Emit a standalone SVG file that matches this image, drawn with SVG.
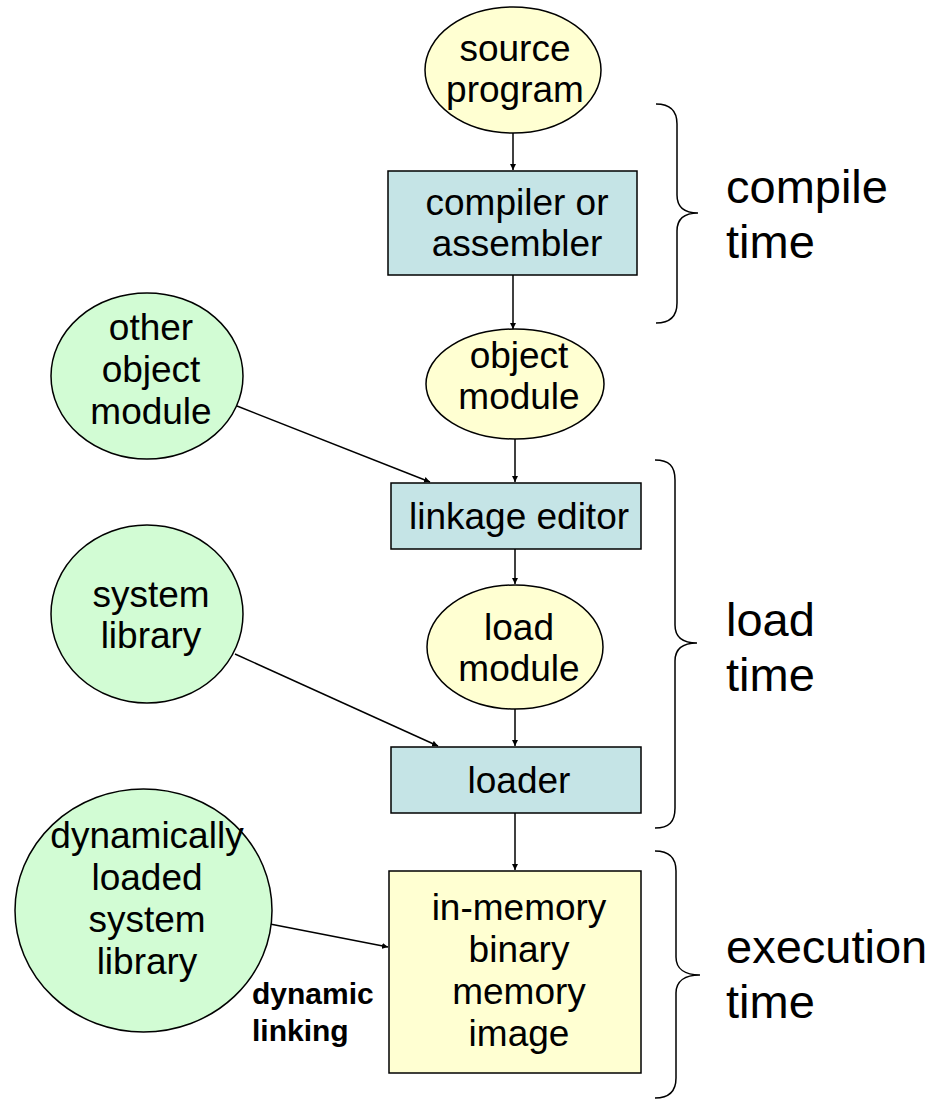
<svg xmlns="http://www.w3.org/2000/svg" width="942" height="1102" viewBox="0 0 942 1102">
<style>
  .t { font-family: "Liberation Sans", Arial, sans-serif; font-size: 37px; fill: #000; text-anchor: middle; }
  .big { font-family: "Liberation Sans", Arial, sans-serif; font-size: 47px; fill: #000; }
  .bold { font-family: "Liberation Sans", Arial, sans-serif; font-size: 30px; font-weight: bold; fill: #000; }
  .yel { fill: #FFFFD2; stroke: #000; stroke-width: 1.5; }
  .blu { fill: #C5E4E6; stroke: #000; stroke-width: 1.5; }
  .grn { fill: #D2FCD4; stroke: #000; stroke-width: 1.5; }
  .con { stroke: #000; stroke-width: 1.5; fill: none; marker-end: url(#ah); }
  .brace { stroke: #000; stroke-width: 1.5; fill: none; }
</style>
<defs>
  <marker id="ah" viewBox="0 0 10 10" refX="10" refY="5" markerWidth="6" markerHeight="6" markerUnits="userSpaceOnUse" orient="auto">
    <path d="M0,0 L10,5 L0,10 Z" fill="#000"/>
  </marker>
</defs>
<rect width="942" height="1102" fill="#fff"/>

<g id="connectors">
  <line class="con" x1="513" y1="133" x2="513" y2="170"/>
  <line class="con" x1="513" y1="275" x2="513" y2="329"/>
  <line class="con" x1="515" y1="439" x2="515" y2="482"/>
  <line class="con" x1="515" y1="549" x2="515" y2="584"/>
  <line class="con" x1="515" y1="709" x2="515" y2="746"/>
  <line class="con" x1="515" y1="813" x2="515" y2="870"/>
  <line class="con" x1="237" y1="406" x2="430" y2="482"/>
  <line class="con" x1="235" y1="654" x2="438" y2="746"/>
  <line class="con" x1="270" y1="924" x2="388" y2="947"/>
</g>

<g id="source-program">
  <ellipse class="yel" cx="513" cy="70" rx="88" ry="63"/>
  <text class="t" x="515" y="61">source</text>
  <text class="t" x="515" y="102">program</text>
</g>
<g id="compiler">
  <rect class="blu" x="388" y="171" width="249" height="104"/>
  <text class="t" x="517" y="215">compiler or</text>
  <text class="t" x="517" y="256">assembler</text>
</g>
<g id="object-module">
  <ellipse class="yel" cx="515" cy="384" rx="89" ry="55"/>
  <text class="t" x="519" y="368">object</text>
  <text class="t" x="519" y="409">module</text>
</g>
<g id="linkage-editor">
  <rect class="blu" x="391" y="483" width="250" height="66"/>
  <text class="t" x="519" y="529">linkage editor</text>
</g>
<g id="load-module">
  <ellipse class="yel" cx="515" cy="647" rx="88" ry="62"/>
  <text class="t" x="519" y="640">load</text>
  <text class="t" x="519" y="681">module</text>
</g>
<g id="loader">
  <rect class="blu" x="391" y="747" width="250" height="66"/>
  <text class="t" x="519" y="793">loader</text>
</g>
<g id="in-memory">
  <rect class="yel" x="389" y="871" width="252" height="202"/>
  <text class="t" x="519" y="920">in-memory</text>
  <text class="t" x="519" y="962">binary</text>
  <text class="t" x="519" y="1004">memory</text>
  <text class="t" x="519" y="1046">image</text>
</g>
<g id="other-object-module">
  <ellipse class="grn" cx="147" cy="376" rx="96" ry="83"/>
  <text class="t" x="151" y="340">other</text>
  <text class="t" x="151" y="382">object</text>
  <text class="t" x="151" y="424">module</text>
</g>
<g id="system-library">
  <ellipse class="grn" cx="147" cy="614" rx="96" ry="89"/>
  <text class="t" x="151" y="607">system</text>
  <text class="t" x="151" y="648">library</text>
</g>
<g id="dynamic-library">
  <ellipse class="grn" cx="143.5" cy="910.5" rx="128.5" ry="121.5"/>
  <text class="t" x="147" y="848">dynamically</text>
  <text class="t" x="147" y="890">loaded</text>
  <text class="t" x="147" y="932">system</text>
  <text class="t" x="147" y="974">library</text>
</g>
<g id="dynamic-linking-label">
  <text class="bold" x="252" y="1004">dynamic</text>
  <text class="bold" x="252" y="1041">linking</text>
</g>

<g id="compile-time">
  <path class="brace" d="M656,104 C670,104 677,110 677,124 L677,195 C677,207 684,213 698,213 C684,213 677,219 677,231 L677,303 C677,317 670,323 656,323"/>
  <text class="big" x="726" y="203">compile</text>
  <text class="big" x="726" y="258">time</text>
</g>
<g id="load-time">
  <path class="brace" d="M655,460 C669,460 675,466 675,480 L675,625 C675,637 683,643 697,643 C683,643 675,649 675,661 L675,808 C675,822 669,828 655,828"/>
  <text class="big" x="726" y="636">load</text>
  <text class="big" x="726" y="691">time</text>
</g>
<g id="execution-time">
  <path class="brace" d="M655,851 C669,851 676,857 676,871 L676,957 C676,969 685,975 700,975 C685,975 676,981 676,993 L676,1078 C676,1092 669,1098 655,1098"/>
  <text class="big" x="726" y="963">execution</text>
  <text class="big" x="726" y="1018">time</text>
</g>
</svg>
